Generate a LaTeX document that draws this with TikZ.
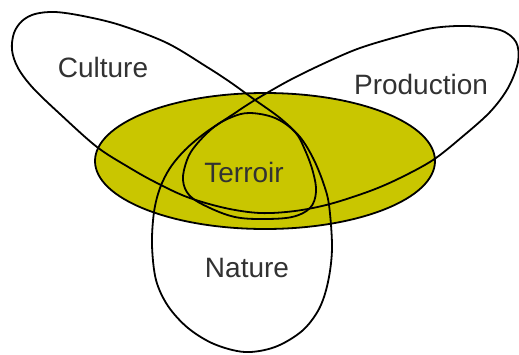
\documentclass[tikz,border=0pt]{standalone}
\usepackage{fontspec}
\setmainfont{Liberation Sans}
\definecolor{olivey}{RGB}{201,198,0}
\definecolor{labelgray}{RGB}{50,50,50}
\tikzset{
  outline/.style={draw=black, line width=1.8pt, line join=round},
  lbl/.style={text=labelgray, font=\fontsize{28}{30}\selectfont, anchor=base, inner sep=0pt}
}
\begin{document}
\begin{tikzpicture}[x=1pt,y=-1pt]
\useasboundingbox (0,0) rectangle (519,354);
% yellow ellipse
\draw[outline, fill=olivey] (265,161) ellipse [x radius=170, y radius=68];
% trefoil curve (Culture, Production, Nature lobes)
\draw[outline] plot[smooth cycle, tension=0.55] coordinates {
 (255,100) (230,82) (207,67) (167,43) (120,25) (83,16) (55,12) (35,14) (22,21) (14,33) (12,50) (18,68) (33,88) (60,114) (97,147) (130,168) (155,182) (187,197) (225,208) (260,213) (295,211) (330,204) (370,191) (400,178) (433,160) (462,137) (490,112) (508,88) (518,62) (516,42) (500,30) (467,26) (433,28) (400,36) (360,48) (327,62) (290,80)
 (255,100) (232,115) (205,133) (185,150) (170,168) (160,188) (154,212) (152,245) (156,280) (168,306) (188,328) (214,344) (245,352) (275,347) (302,331) (319,309) (328,282) (332,248) (329,205) (323,182) (313,158) (300,137) (280,118)
};
% Terroir
\draw[outline] plot[smooth cycle, tension=0.6] coordinates {
 (250,113) (275,118) (295,132) (305,150) (313,172) (316,192) (310,208) (292,217) (262,219) (235,217) (210,208) (190,196) (183,180) (187,160) (196,145) (214,127) (232,117)
};
\node[lbl] (culture) at (103,77) {Culture};
\node[lbl] (production) at (421,94) {Production};
\node[lbl] (terroir) at (244,182) {Terroir};
\node[lbl] (nature) at (247,277) {Nature};
\end{tikzpicture}
\end{document}
